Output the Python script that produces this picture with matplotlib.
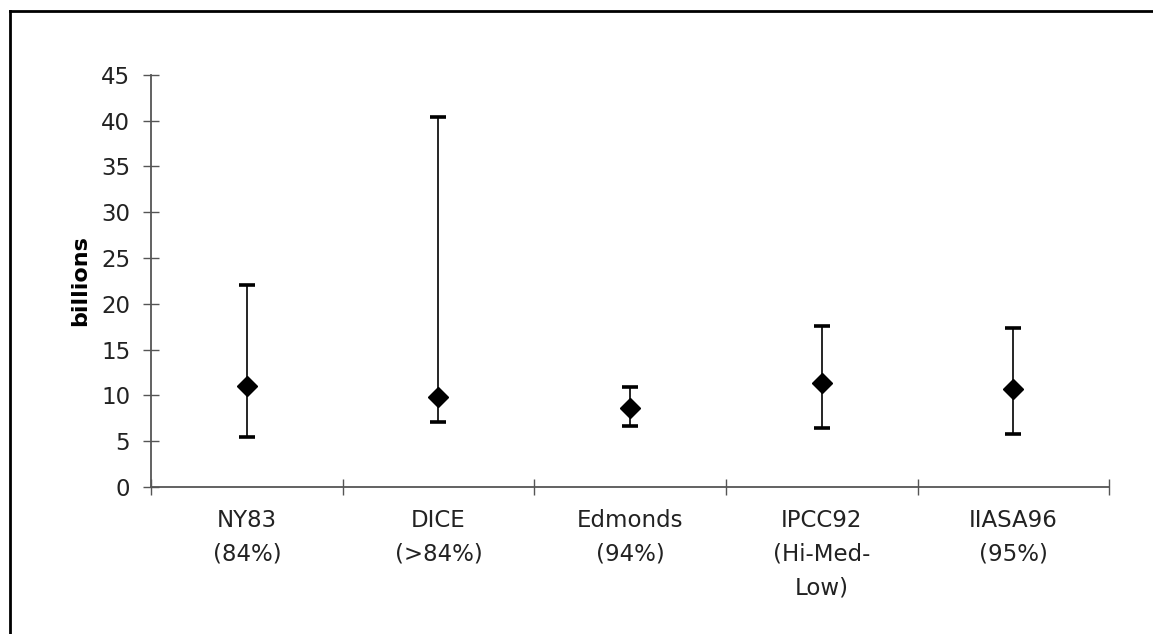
import numpy as np
import matplotlib
matplotlib.use("Agg")
import matplotlib.pyplot as plt
from matplotlib.lines import Line2D

# data (billions)
models = ["NY83\n(84%)", "DICE\n(>84%)", "Edmonds\n(94%)", "IPCC92\n(Hi-Med-\nLow)", "IIASA96\n(95%)"]
central = [11.0, 9.85, 8.6, 11.35, 10.7]
low = [5.5, 7.1, 6.65, 6.45, 5.75]
high = [22.0, 40.4, 10.95, 17.6, 17.3]

plt.rcParams['font.family'] = ['DejaVu Sans']

fig = plt.figure(figsize=(11.53, 6.34), dpi=100)
ax = fig.add_axes([0.131, 0.232, 0.831, 0.65])

x = np.arange(len(models)) + 0.5
c = np.array(central)
yerr = [c - np.array(low), np.array(high) - c]
ax.errorbar(x, c, yerr=yerr, fmt='D', color='black', ms=10,
            ecolor='black', elinewidth=1.2, capsize=5.5, capthick=2.6)

ax.set_xlim(0, len(models))
ax.set_ylim(0, 45)
ax.set_yticks(np.arange(0, 46, 5))
ax.set_xticks(np.arange(0, len(models) + 1))
ax.set_xticklabels([])
ax.set_xticks(x, minor=True)
ax.set_xticklabels(models, minor=True, fontsize=16.5, linespacing=1.6,
                   color='#222222', va='top')
ax.tick_params(axis='x', which='minor', length=0, pad=16)
ax.tick_params(axis='x', which='major', direction='inout', length=12,
               width=1, color='#555555')
ax.tick_params(axis='y', direction='inout', length=12, width=1,
               color='#555555', labelsize=16.5, labelcolor='#222222', pad=9)

for s in ['top', 'right']:
    ax.spines[s].set_visible(False)
for s in ['left', 'bottom']:
    ax.spines[s].set_color('#555555')
    ax.spines[s].set_linewidth(1.3)

ax.set_ylabel("billions", fontsize=16, fontweight='bold', labelpad=8)

# frame lines around the picture (top and left only)
fig.add_artist(Line2D([0.0087, 1.0], [0.9826, 0.9826], color='black', lw=2,
                      transform=fig.transFigure))
fig.add_artist(Line2D([0.0087, 0.0087], [0.0, 0.9826], color='black', lw=2,
                      transform=fig.transFigure))

fig.savefig("out.png", dpi=100)
